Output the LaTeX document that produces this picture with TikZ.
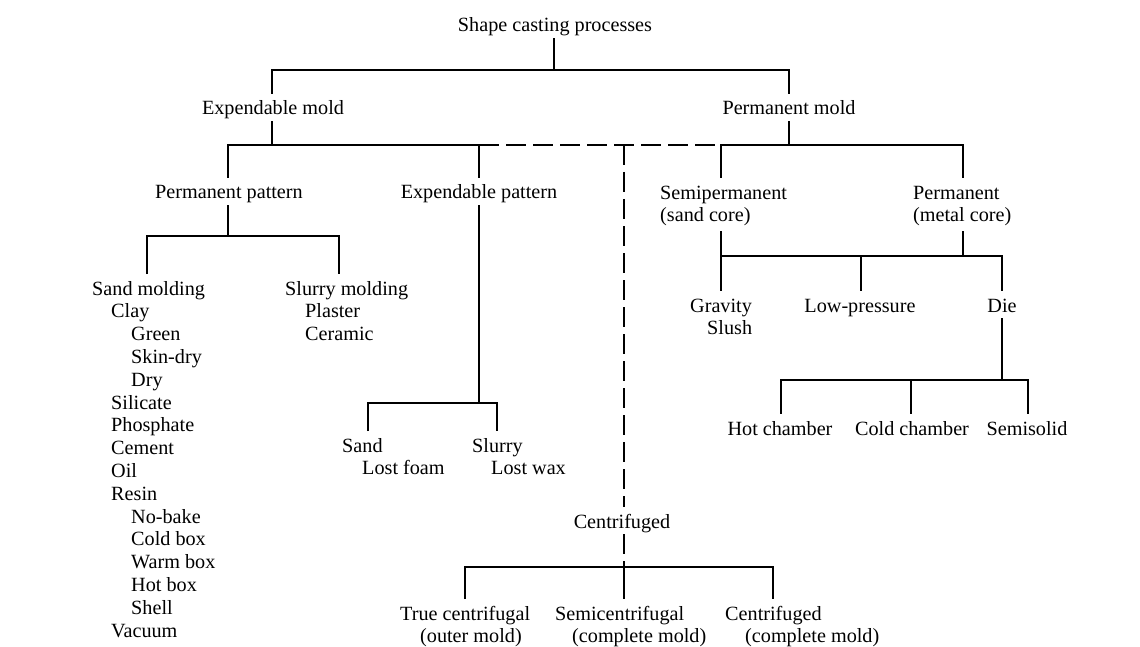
\documentclass[tikz,border=0pt]{standalone}
\usepackage{fontspec}
\setmainfont{Liberation Serif}
\begin{document}
\begin{tikzpicture}[x=1pt,y=-1pt,
  lbl/.style={inner xsep=0pt, inner ysep=5pt, text height=16pt, text depth=1pt,
              font=\fontsize{20.2}{22.8}\selectfont, anchor=base},
  lst/.style={inner xsep=0pt, inner ysep=5pt, align=left,
              font=\fontsize{20.2}{22.8}\selectfont, anchor=north west},
  ln/.style={line width=2.2pt},
  dsh/.style={line width=2.2pt, dash pattern=on 20pt off 7pt}]
\useasboundingbox (0,0) rectangle (1140,647);

% ---------- nodes ----------
\node[lbl] (scp) at (555,32) {Shape casting processes};
\node[lbl] (em) at (273,115) {Expendable mold};
\node[lbl] (pm) at (789,115) {Permanent mold};
\node[lbl] (pp) at (229,199) {Permanent pattern};
\node[lbl] (ep) at (479,199) {Expendable pattern};
\node[lst] (semi) at (660,178) {\strut Semipermanent\\(sand core)};
\node[lst] (perm) at (913,178) {\strut Permanent\\(metal core)};
\node[lst] (sandm) at (92,274) {\strut Sand molding\\
  \hspace*{19pt}Clay\\
  \hspace*{39pt}Green\\
  \hspace*{39pt}Skin-dry\\
  \hspace*{39pt}Dry\\
  \hspace*{19pt}Silicate\\
  \hspace*{19pt}Phosphate\\
  \hspace*{19pt}Cement\\
  \hspace*{19pt}Oil\\
  \hspace*{19pt}Resin\\
  \hspace*{39pt}No-bake\\
  \hspace*{39pt}Cold box\\
  \hspace*{39pt}Warm box\\
  \hspace*{39pt}Hot box\\
  \hspace*{39pt}Shell\\
  \hspace*{19pt}Vacuum};
\node[lst] (slurm) at (285,274) {\strut Slurry molding\\\hspace*{20pt}Plaster\\\hspace*{20pt}Ceramic};
\node[lst] (grav) at (690,291) {\strut Gravity\\\hspace*{17pt}Slush};
\node[lbl] (lowp) at (860,312) {Low-pressure};
\node[lbl] (die) at (1002,312) {Die};
\node[lbl] (hot) at (780,435) {Hot chamber};
\node[lbl] (cold) at (912,435) {Cold chamber};
\node[lbl] (semis) at (1027,435) {Semisolid};
\node[lst] (sandlf) at (342,431) {\strut Sand\\\hspace*{20pt}Lost foam};
\node[lst] (slurlw) at (472,431) {\strut Slurry\\\hspace*{19pt}Lost wax};
\node[lbl] (cent) at (622,528) {Centrifuged};
\node[lst] (truec) at (400,599) {\strut True centrifugal\\\hspace*{20pt}(outer mold)};
\node[lst] (semic) at (555,599) {\strut Semicentrifugal\\\hspace*{17pt}(complete mold)};
\node[lst] (centc) at (725,599) {\strut Centrifuged\\\hspace*{20pt}(complete mold)};

% ---------- junction coordinates ----------
\coordinate (b1l) at (272,70);
\coordinate (b1m) at (554,70);
\coordinate (b1r) at (789,70);

\coordinate (b2a) at (228,145);
\coordinate (b2b) at (272,145);
\coordinate (b2c) at (479,145);
\coordinate (b2d) at (624,145);
\coordinate (b2e) at (721,145);
\coordinate (b2f) at (789,145);
\coordinate (b2g) at (963,145);

\coordinate (b3a) at (147,236);
\coordinate (b3m) at (228,236);
\coordinate (b3b) at (339,236);

\coordinate (b4a) at (368,403);
\coordinate (b4m) at (479,403);
\coordinate (b4b) at (497,403);

\coordinate (b5a) at (721,256);
\coordinate (b5m) at (861,256);
\coordinate (b5p) at (963,256);
\coordinate (b5b) at (1002,256);

\coordinate (b6a) at (781,380);
\coordinate (b6m) at (911,380);
\coordinate (b6d) at (1002,380);
\coordinate (b6b) at (1028,380);

\coordinate (b7a) at (465,567);
\coordinate (b7m) at (624,567);
\coordinate (b7b) at (773,567);

% ---------- connectors ----------
\draw[ln] (scp.south -| b1m) -- (b1m);
\draw[ln] (em.north -| b1l) -- (b1l) -- (b1r) -- (pm.north -| b1r);

\draw[ln] (em.south -| b2b) -- (b2b);
\draw[ln] (pm.south -| b2f) -- (b2f);
\draw[ln] (pp.north -| b2a) -- (b2a) -- (b2c) -- (ep.north -| b2c);
\draw[dsh] (b2c) -- (b2e);
\draw[ln] (semi.north -| b2e) -- (b2e) -- (b2g) -- (perm.north -| b2g);
\draw[dsh] (b2d) -- (cent.north -| b2d);

\draw[ln] (pp.south -| b3m) -- (b3m);
\draw[ln] (sandm.north -| b3a) -- (b3a) -- (b3b) -- (slurm.north -| b3b);

\draw[ln] (ep.south -| b4m) -- (b4m);
\draw[ln] (sandlf.north -| b4a) -- (b4a) -- (b4b) -- (slurlw.north -| b4b);

\draw[ln] (semi.south -| b5a) -- (grav.north -| b5a);
\draw[ln] (perm.south -| b5p) -- (b5p);
\draw[ln] (b5a) -- (b5b) -- (die.north -| b5b);
\draw[ln] (b5m) -- (lowp.north -| b5m);

\draw[ln] (die.south -| b6d) -- (b6d);
\draw[ln] (hot.north -| b6a) -- (b6a) -- (b6b) -- (semis.north -| b6b);
\draw[ln] (b6m) -- (cold.north -| b6m);

\draw[dsh] (cent.south -| b7m) -- (b7m);
\draw[ln] (truec.north -| b7a) -- (b7a) -- (b7b) -- (centc.north -| b7b);
\draw[ln] (b7m) -- (semic.north -| b7m);
\end{tikzpicture}
\end{document}
